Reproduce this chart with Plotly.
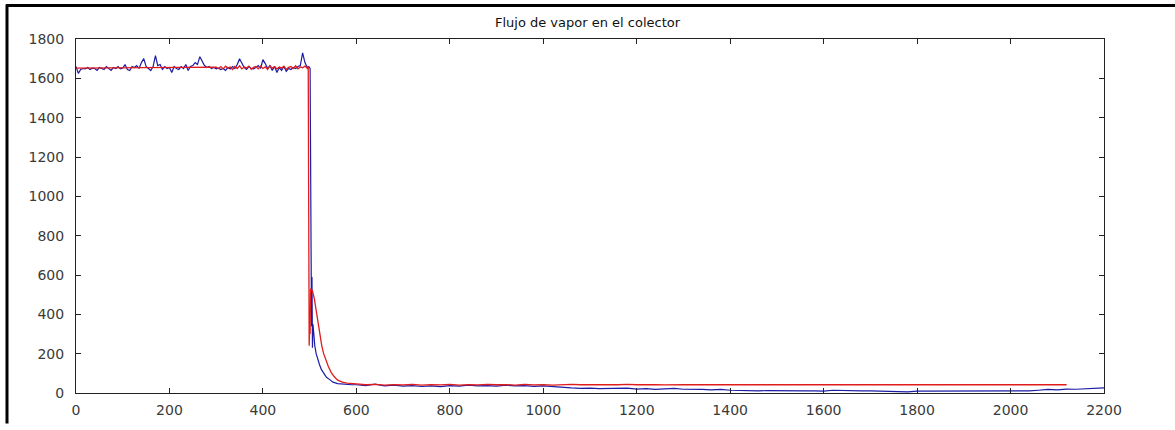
import plotly.graph_objects as go

# ---------------- data ----------------
title_text = "Flujo de vapor en el colector"
x_ticks = [0, 200, 400, 600, 800, 1000, 1200, 1400, 1600, 1800, 2000, 2200]
y_ticks = [0, 200, 400, 600, 800, 1000, 1200, 1400, 1600, 1800]

# blue series: pre-drop (step 5), drop transient, tail (step 20)
blue_pre_t = list(range(0, 500, 5))
blue_pre_v = [1660, 1625, 1645, 1650, 1648, 1655, 1645, 1652, 1650, 1640,
              1655, 1650, 1645, 1660, 1650, 1640, 1655, 1650, 1660, 1648,
              1652, 1670, 1645, 1640, 1660, 1655, 1665, 1650, 1680, 1700,
              1660, 1650, 1640, 1660, 1715, 1665, 1670, 1645, 1660, 1650,
              1655, 1630, 1660, 1650, 1645, 1660, 1650, 1670, 1640, 1660,
              1665, 1680, 1670, 1710, 1690, 1665, 1655, 1660, 1650, 1655,
              1648, 1652, 1645, 1650, 1640, 1655, 1648, 1660, 1650, 1670,
              1700, 1680, 1655, 1645, 1660, 1650, 1648, 1655, 1665, 1650,
              1695, 1675, 1650, 1665, 1640, 1660, 1630, 1655, 1640, 1660,
              1635, 1650, 1645, 1655, 1650, 1660, 1665, 1730, 1680, 1655]
blue_drop_t = [498, 501, 501.5, 502, 502.5, 503, 503.5, 504, 505, 506, 507, 509,
               511, 514, 517, 521, 525, 530, 536, 543, 550, 560, 575, 590]
blue_drop_v = [1660, 1650, 1290, 1030, 1280, 1040, 600, 340, 590, 230, 350, 300,
               240, 200, 170, 145, 120, 100, 80, 68, 55, 48, 44, 42]
blue_tail_t = list(range(600, 2201, 20))
blue_tail_v = [42, 38, 45, 36, 40, 35, 38, 33, 36, 32,
               38, 35, 40, 36, 38, 35, 40, 36, 38, 34,
               36, 32, 30, 26, 24, 25, 22, 24, 23, 25,
               20, 22, 18, 21, 24, 19, 20, 18, 16, 18,
               14, 12, 12, 11, 12, 11, 11, 10, 11, 11,
               10, 14, 12, 11, 11, 11, 10, 6, 5, 6,
               10, 10, 11, 10, 11, 10, 10, 11, 10, 11,
               10, 10, 11, 14, 18, 16, 20, 19, 22, 24, 26]

# red series
red_pre_t = list(range(0, 300, 50)) + list(range(300, 500, 5))
red_pre_v = [1652, 1653, 1654, 1655, 1656, 1656,
             1657, 1650, 1660, 1648, 1662, 1652, 1658, 1645, 1660, 1650,
             1664, 1648, 1658, 1652, 1662, 1646, 1656, 1660, 1648, 1662,
             1650, 1658, 1645, 1664, 1652, 1660, 1648, 1658, 1652, 1662,
             1646, 1656, 1660, 1650, 1664, 1648, 1658, 1654, 1662, 1650]
red_drop_t = [497, 499, 500, 501, 502, 506, 510, 514, 518, 522, 526, 530,
              535, 540, 546, 552, 560, 570, 580, 590]
red_drop_v = [1660, 240, 320, 300, 530, 520, 480, 420, 350, 290, 240, 200,
              165, 135, 105, 85, 65, 55, 50, 47]
red_tail_t = list(range(600, 2121, 20))
red_tail_v = [46, 42, 44, 40, 43, 41, 44, 40, 43, 41,
              44, 40, 43, 41, 44, 42, 43, 40, 44, 41,
              43, 40, 42, 44, 42, 43, 41, 43, 42, 44,
              42, 43, 42, 41, 43, 42, 42, 43, 41, 42,
              42, 42, 43, 42, 42, 41, 42, 42, 42, 42,
              42, 43, 42, 42, 42, 42, 41, 42, 42, 42,
              42, 42, 42, 41, 42, 42, 42, 42, 42, 42,
              42, 42, 41, 42, 43, 42, 42]

blue_t = blue_pre_t + blue_drop_t + blue_tail_t
blue_v = blue_pre_v + blue_drop_v + blue_tail_v
red_t = red_pre_t + red_drop_t + red_tail_t
red_v = red_pre_v + red_drop_v + red_tail_v

# ---------------- figure ----------------
W, H = 1175, 430
L, R, T, B = 76, 1104, 39, 399

fig = go.Figure()
fig.add_trace(go.Scatter(x=blue_t, y=blue_v, mode="lines",
                         line=dict(color="#1c1ca6", width=1.2), showlegend=False))
fig.add_trace(go.Scatter(x=red_t, y=red_v, mode="lines",
                         line=dict(color="#e01c1c", width=1.3), showlegend=False))


def px(xp):
    return (xp - L) / (R - L)


def py(yp):
    return (B - yp) / (B - T)


fig.update_layout(
    width=W, height=H,
    margin=dict(l=L, r=W - R, t=T, b=H - B, pad=0),
    paper_bgcolor="white", plot_bgcolor="white",
    title=dict(text=title_text, x=px(590), xanchor="center", y=1 - 22 / H,
               yanchor="middle", font=dict(family="DejaVu Sans", size=13, color="#111")),
    font=dict(family="DejaVu Sans", size=14, color="#3a3a3a"),
    xaxis=dict(range=[0, 2200], tickvals=x_ticks, ticks="inside", ticklen=5,
               tickcolor="#222", showline=True, linecolor="#222", linewidth=1,
               mirror="ticks", showgrid=False, zeroline=False,
               ticklabelstandoff=4),
    yaxis=dict(range=[0, 1800], tickvals=y_ticks, ticks="inside", ticklen=5,
               tickcolor="#222", showline=True, linecolor="#222", linewidth=1,
               mirror="ticks", showgrid=False, zeroline=False,
               ticklabelstandoff=8),
    shapes=[
        dict(type="line", xref="paper", yref="paper", x0=px(6), x1=px(1175),
             y0=py(5), y1=py(5), line=dict(color="black", width=3)),
        dict(type="line", xref="paper", yref="paper", x0=px(7), x1=px(7),
             y0=py(4), y1=py(430), line=dict(color="black", width=3)),
    ],
)

fig.write_html("out.html")
